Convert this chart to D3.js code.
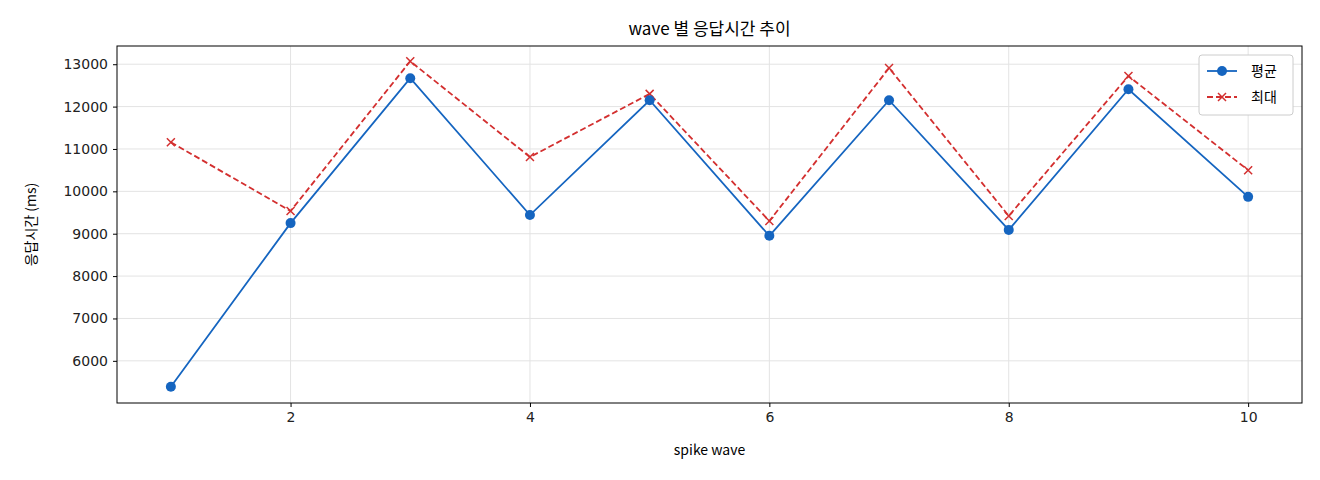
<!DOCTYPE html>
<html><head><meta charset="utf-8">
<script src="https://cdn.jsdelivr.net/npm/d3@7"></script>
<style>body{margin:0;background:#fff;font-family:"Noto Sans CJK KR","DejaVu Sans",sans-serif;}</style>
</head><body><div id="chart"></div>
<script>
const waves = [1,2,3,4,5,6,7,8,9,10];
const avgMs = [5390,9250,12670,9440,12150,8950,12150,9090,12410,9870];
const maxMs = [11160,9535,13070,10810,12300,9300,12910,9420,12720,10500];
const xTicks = [2,4,6,8,10];
const yTicks = [6000,7000,8000,9000,10000,11000,12000,13000];

const W = 1320, H = 480, m = {l:117, r:18, t:46, b:77};
const svg = d3.select('#chart').append('svg').attr('width', W).attr('height', H);
const x = d3.scaleLinear().domain([0.55,10.45]).range([m.l, W-m.r]);
const y = d3.scaleLinear().domain([5005,13430]).range([H-m.b, m.t]);

// grid
svg.append('g').selectAll('line').data(xTicks).enter().append('line')
  .attr('x1', d=>x(d)).attr('x2', d=>x(d)).attr('y1', m.t).attr('y2', H-m.b)
  .attr('stroke', '#e3e3e3');
svg.append('g').selectAll('line').data(yTicks).enter().append('line')
  .attr('y1', d=>y(d)).attr('y2', d=>y(d)).attr('x1', m.l).attr('x2', W-m.r)
  .attr('stroke', '#e3e3e3');

const xa = svg.append('g').attr('transform', `translate(0,${H-m.b})`)
  .call(d3.axisBottom(x).tickValues(xTicks).tickSize(4).tickPadding(5));
const ya = svg.append('g').attr('transform', `translate(${m.l},0)`)
  .call(d3.axisLeft(y).tickValues(yTicks).tickFormat(d3.format('d')).tickSize(4).tickPadding(5));
[xa, ya].forEach(a => {
  a.select('.domain').remove();
  a.selectAll('text').attr('font-size', 14).attr('fill', '#222').attr('font-family', '"DejaVu Sans",sans-serif');
});
svg.append('rect').attr('x', m.l).attr('y', m.t).attr('width', W-m.l-m.r).attr('height', H-m.t-m.b)
  .attr('fill', 'none').attr('stroke', '#000');

// lines
const line = v => d3.line().x((d,i)=>x(waves[i])).y(d=>y(d))(v);
svg.append('path').attr('d', line(maxMs)).attr('fill','none').attr('stroke','#d32f2f')
  .attr('stroke-width',1.8).attr('stroke-dasharray','6,3');
svg.append('g').selectAll('path').data(maxMs).enter().append('path')
  .attr('transform', (d,i)=>`translate(${x(waves[i])},${y(d)})`)
  .attr('d','M-4,-4L4,4M-4,4L4,-4').attr('stroke','#d32f2f').attr('stroke-width',1.5);
svg.append('path').attr('d', line(avgMs)).attr('fill','none').attr('stroke','#1565c0').attr('stroke-width',1.8);
svg.append('g').selectAll('circle').data(avgMs).enter().append('circle')
  .attr('cx',(d,i)=>x(waves[i])).attr('cy',d=>y(d)).attr('r',5).attr('fill','#1565c0');

// labels
svg.append('text').attr('x',(m.l+W-m.r)/2).attr('y',35).attr('text-anchor','middle')
  .attr('font-size',17).text('wave 별 응답시간 추이');
svg.append('text').attr('x',(m.l+W-m.r)/2).attr('y',455).attr('text-anchor','middle')
  .attr('font-size',14).text('spike wave');
svg.append('text').attr('transform',`translate(36,${(m.t+H-m.b)/2}) rotate(-90)`).attr('text-anchor','middle')
  .attr('font-size',14).text('응답시간 (ms)');

// legend
const lg = svg.append('g').attr('transform','translate(1199,55)');
lg.append('rect').attr('width',94).attr('height',60).attr('rx',3).attr('fill','#fff').attr('stroke','#ccc');
lg.append('line').attr('x1',8).attr('x2',38).attr('y1',16).attr('y2',16).attr('stroke','#1565c0').attr('stroke-width',1.8);
lg.append('circle').attr('cx',23).attr('cy',16).attr('r',5).attr('fill','#1565c0');
lg.append('text').attr('x',52).attr('y',21).attr('font-size',14).text('평균');
lg.append('line').attr('x1',8).attr('x2',38).attr('y1',42).attr('y2',42).attr('stroke','#d32f2f').attr('stroke-width',1.8).attr('stroke-dasharray','6,3');
lg.append('path').attr('transform','translate(23,42)').attr('d','M-4,-4L4,4M-4,4L4,-4').attr('stroke','#d32f2f').attr('stroke-width',1.5);
lg.append('text').attr('x',52).attr('y',47).attr('font-size',14).text('최대');
</script></body></html>
